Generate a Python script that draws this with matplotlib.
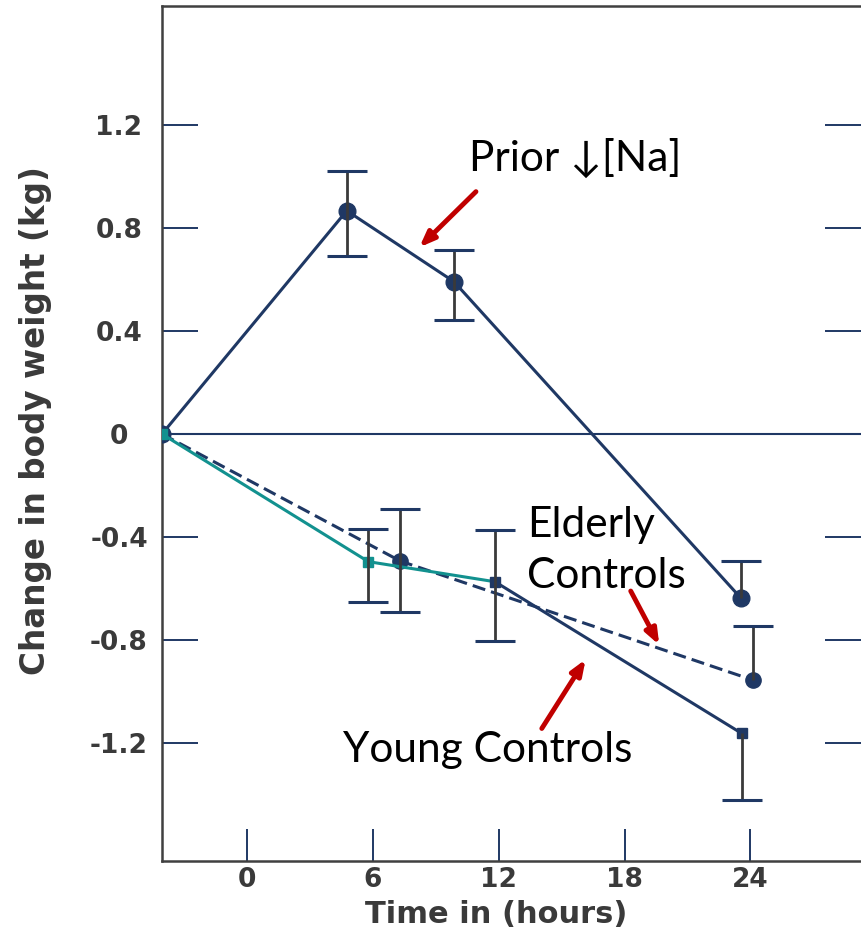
import matplotlib
matplotlib.use("Agg")
import matplotlib.pyplot as plt

# time (hours) and change in body weight (kg)
prior_t = [-4.06, 4.75, 9.86, 23.55]
prior_v = [0.0, 0.866, 0.591, -0.637]
prior_up = [0.0, 0.155, 0.122, 0.144]
prior_dn = [0.0, 0.175, 0.149, 0.0]

elderly_t = [-4.06, 7.31, 24.11]
elderly_v = [0.0, -0.493, -0.954]
elderly_up = [0.0, 0.201, 0.21]
elderly_dn = [0.0, 0.196, 0.0]

young_t = [-4.06, 5.78, 11.82, 23.58]
young_v = [0.0, -0.495, -0.573, -1.161]
young_up = [0.0, 0.127, 0.200, 0.0]
young_dn = [0.0, 0.156, 0.229, 0.259]

x_ticks = [0, 6, 12, 18, 24]
y_ticks = [-1.2, -0.8, -0.4, 0, 0.4, 0.8, 1.2]
y_ticklabels = ['-1.2', '-0.8', '-0.4', '0', '0.4', '0.8', '1.2']

navy = '#1f3864'
teal = '#12918f'
red = '#c00000'
grey = '#3a3a3a'

fig = plt.figure(figsize=(8.61, 9.36), dpi=100)
ax = fig.add_axes([162/861, 75/936, 1 - 162/861, 855/936])
ax.set_xlim(-4.06, 29.27)
ax.set_ylim(-1.656, 1.660)


def err_bars(t, v, up, dn):
    for x, y, u, d in zip(t, v, up, dn):
        if u == 0 and d == 0:
            continue
        ax.vlines(x, y - d, y + u, color=grey, lw=2.0, zorder=5)
        if u:
            ax.plot(x, y + u, marker='_', ms=29, mew=2.2, color=navy, zorder=5)
        if d:
            ax.plot(x, y - d, marker='_', ms=29, mew=2.2, color=navy, zorder=5)


ax.axhline(0, color=navy, lw=1.5, zorder=1)

# Prior low Na
ax.plot(prior_t, prior_v, color=navy, lw=2.2, marker='o', ms=12, zorder=3)
err_bars(prior_t, prior_v, prior_up, prior_dn)

# Elderly controls
ax.plot(elderly_t, elderly_v, color=navy, lw=2.2, dashes=(4.3, 2.0), zorder=3)
ax.plot(elderly_t[1:], elderly_v[1:], ls='none', color=navy, marker='o', ms=11, zorder=3)
err_bars(elderly_t, elderly_v, elderly_up, elderly_dn)

# Young controls
ax.plot(young_t[2:], young_v[2:], color=navy, lw=2.2, zorder=3)
ax.plot(young_t[2:], young_v[2:], ls='none', color=navy, marker='s', ms=6.5, zorder=4)
ax.plot(young_t[:3], young_v[:3], color=teal, lw=2.2, zorder=3)
ax.plot(young_t[:2], young_v[:2], ls='none', color=teal, marker='s', ms=7, zorder=4)
err_bars(young_t, young_v, young_up, young_dn)

# labels and arrows
txt = dict(fontsize=30.5, family=['Lato', 'DejaVu Sans'], color='black')
ax.text(10.6, 1.07, 'Prior \u2193[Na]', va='center', ha='left', **txt)
ax.text(13.34, -0.45, 'Elderly\nControls', va='center', ha='left', linespacing=1.42, **txt)
ax.text(4.57, -1.226, 'Young Controls', va='center', ha='left', **txt)

arrow = dict(arrowstyle='-|>,head_length=0.9,head_width=0.35', color=red, lw=3.5,
             shrinkA=0, shrinkB=0)
ax.annotate('', xy=(8.21, 0.724), xytext=(10.91, 0.940), arrowprops=arrow)
ax.annotate('', xy=(19.65, -0.818), xytext=(18.29, -0.609), arrowprops=arrow)
ax.annotate('', xy=(16.14, -0.874), xytext=(14.05, -1.142), arrowprops=arrow)

# axes styling
for side in ['left', 'top', 'bottom']:
    ax.spines[side].set_color('#404040')
    ax.spines[side].set_linewidth(1.8)
ax.spines['right'].set_visible(False)

ax.set_xticks(x_ticks)
ax.set_xticklabels([str(v) for v in x_ticks])
ax.set_yticks(y_ticks)
ax.set_yticklabels(y_ticklabels)
ax.tick_params(axis='x', direction='in', length=23, width=1.4, color=navy,
               labelsize=19, labelcolor=grey, pad=4)
ax.tick_params(axis='y', direction='in', length=26, width=1.4, color=navy,
               labelsize=19, labelcolor=grey, pad=31, right=True)
for lab in ax.get_yticklabels():
    lab.set_horizontalalignment('center')
for lab in ax.get_xticklabels() + ax.get_yticklabels():
    lab.set_fontweight('bold')

ax.set_xlabel('Time in (hours)', fontsize=22, fontweight='bold', color=grey)
ax.xaxis.set_label_coords(0.478, -0.046)
ax.set_ylabel('Change in body weight (kg)', fontsize=23.5, fontweight='bold', color=grey)
ax.yaxis.set_label_coords(-0.157, 0.515)

fig.savefig('out.png', dpi=100)
